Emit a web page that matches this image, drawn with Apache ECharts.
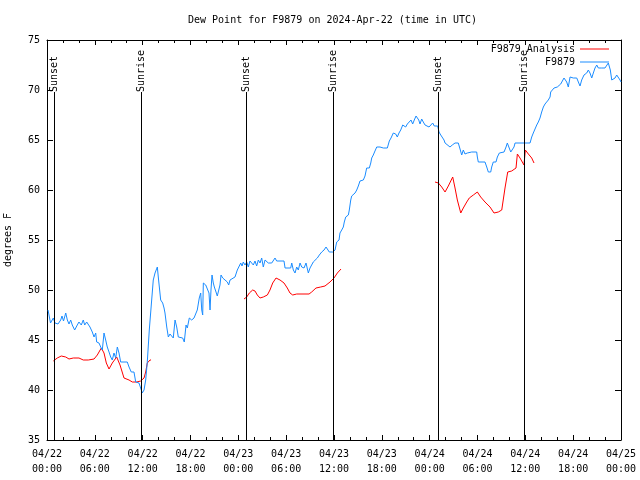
<!DOCTYPE html>
<html><head><meta charset="utf-8">
<script src="https://cdn.jsdelivr.net/npm/echarts@6/dist/echarts.min.js"></script>
<style>html,body{margin:0;padding:0;background:#fff}#c{width:640px;height:480px}</style>
</head><body><div id="c"></div>
<script>
const FONT = 'DejaVu Sans Mono';

// hours since 2024-04-22 00:00 UTC
const stationHours = [
0.13,0.25,0.44,0.63,0.79,1.00,1.38,1.72,1.88,2.07,
2.35,2.55,2.76,2.97,3.17,3.47,3.80,4.01,4.30,4.55,
4.73,4.98,5.18,5.39,5.68,5.90,6.11,6.23,6.52,6.74,
6.94,7.15,7.36,7.56,7.78,7.99,8.19,8.40,8.62,8.82,
9.03,9.24,10.07,10.29,10.57,10.91,11.13,11.54,11.75,11.95,
12.17,12.38,12.58,12.83,13.13,13.33,13.55,13.76,13.84,13.96,
14.09,14.26,14.51,14.68,14.80,15.02,15.22,15.43,15.64,15.84,
16.06,16.27,16.47,16.68,17.02,17.22,17.44,17.60,17.85,18.15,
18.44,18.69,18.85,19.10,19.28,19.41,19.53,19.61,19.73,19.91,
20.11,20.32,20.45,20.57,20.70,20.86,20.99,21.20,21.36,21.58,
21.70,21.83,22.04,22.33,22.62,22.79,22.96,23.17,23.58,23.87,
24.12,24.30,24.46,24.62,24.84,25.05,25.25,25.46,25.68,25.88,
26.09,26.30,26.51,26.72,26.93,27.13,27.35,27.56,27.76,27.97,
28.19,28.39,28.60,28.81,28.98,29.73,29.86,30.57,30.70,30.90,
31.11,31.32,31.52,31.74,31.95,32.24,32.49,32.78,32.99,33.20,
33.40,33.62,33.91,34.16,34.46,34.75,35.00,35.16,35.41,35.59,
35.84,36.13,36.34,36.63,36.75,36.97,37.17,37.29,37.47,37.80,
37.92,38.10,38.22,38.42,38.64,38.85,39.05,39.26,39.68,39.89,
40.10,40.43,40.61,40.73,40.93,41.14,41.36,41.56,41.77,41.99,
42.19,42.40,42.69,42.94,43.15,43.44,43.74,43.94,44.15,44.37,
44.62,44.78,44.99,45.20,45.45,45.66,45.87,46.07,46.29,46.50,
46.63,46.79,47.00,47.20,47.42,47.63,47.92,48.13,48.38,48.58,
48.80,49.01,49.17,49.39,49.59,49.80,49.93,50.14,50.55,50.84,
51.18,51.39,51.59,51.81,52.02,52.22,52.43,52.72,52.94,53.27,
53.90,53.98,54.10,54.94,55.16,55.36,55.66,55.78,55.98,56.32,
56.49,56.74,57.33,57.58,57.74,57.99,58.17,58.42,58.58,58.71,
60.59,60.80,61.00,61.22,61.43,61.63,61.84,62.05,62.26,62.47,
62.68,62.88,63.10,63.18,63.38,63.60,63.81,64.01,64.23,64.44,
64.64,64.85,65.02,65.19,65.39,65.61,65.82,66.02,66.23,66.45,
66.65,66.86,67.07,67.36,67.49,67.70,67.90,68.11,68.33,68.53,
68.74,68.96,69.16,69.37,69.58,69.78,69.99,70.20,70.41,70.54,
70.66,70.84,71.04,71.25,71.46,71.67,71.88,72.00];

const stationDewpt = [
48.0,47.5,46.7,46.7,47.2,46.7,46.6,47.0,47.4,46.9,
47.7,47.0,46.6,47.0,46.5,46.0,46.5,46.8,46.5,47.0,
46.5,46.8,46.8,46.3,45.8,45.3,45.7,44.8,44.7,44.3,
44.0,45.7,45.0,44.3,43.8,43.3,43.0,43.7,43.2,44.3,
43.7,42.8,42.8,42.3,41.8,41.8,40.8,40.7,40.5,39.7,
40.0,41.0,42.8,46.0,49.0,51.0,51.7,51.8,52.3,51.3,
50.3,49.0,48.7,48.2,47.7,46.3,45.3,45.6,45.7,45.2,
47.0,46.3,45.3,45.5,45.2,44.8,46.5,46.2,47.2,47.0,
47.2,47.0,48.0,49.2,49.7,48.0,47.5,50.7,50.8,50.5,
50.3,49.7,48.0,50.0,51.5,50.7,50.3,49.8,49.4,49.4,
50.5,51.5,51.2,51.0,50.8,50.5,51.0,51.2,51.3,52.0,
52.2,52.7,52.4,52.8,52.5,52.8,52.3,52.9,52.7,52.5,
52.9,52.4,53.0,52.7,53.2,52.3,53.0,53.2,52.7,52.8,
52.7,52.7,53.2,52.9,52.9,52.9,52.2,52.2,52.7,52.0,
51.7,52.3,52.0,52.7,52.3,52.2,52.7,51.7,52.2,52.3,
52.8,53.0,53.2,53.5,53.8,54.0,54.3,54.3,53.8,53.6,
53.8,54.0,54.8,55.0,55.7,56.0,56.3,56.8,57.3,57.5,
58.0,59.0,59.4,59.2,59.7,60.0,60.4,60.9,61.0,61.4,
62.2,62.2,62.7,63.2,63.5,63.9,64.3,64.5,64.3,64.5,
64.2,64.1,64.2,64.9,65.2,65.7,65.6,65.3,65.7,66.0,
66.5,66.7,66.3,66.6,66.7,67.0,66.6,67.0,67.4,67.5,
67.0,66.6,67.1,66.8,66.5,66.4,66.3,66.1,66.7,66.4,
66.3,66.4,65.8,65.5,65.4,65.0,64.7,64.5,64.3,64.5,
64.7,64.9,64.7,64.1,63.5,64.0,63.6,63.7,63.6,63.8,
63.8,63.3,62.8,62.8,62.3,61.8,61.8,62.3,62.8,62.8,
63.3,63.7,63.8,64.3,64.7,64.7,63.8,63.7,64.3,64.7,
64.7,65.3,65.7,65.8,66.5,66.8,67.2,67.8,68.3,68.6,
68.8,69.0,69.3,69.8,69.7,70.2,70.0,70.3,70.2,70.6,
70.8,71.2,71.3,70.8,70.3,71.3,71.5,71.2,71.0,71.2,
70.8,70.4,71.0,71.5,71.3,71.7,72.0,71.7,71.2,71.7,
72.2,72.5,72.2,72.3,72.2,72.0,72.2,72.3,72.7,72.8,
72.0,71.0,70.8,71.2,71.5,71.3,71.0,70.8];

// null entries separate the analysis segments
const analysisHours = [
0.79,1.29,1.79,2.35,2.76,3.30,4.01,4.55,5.18,5.90,6.31,6.81,7.15,7.44,7.78,8.19,8.74,9.16,9.66,10.29,10.70,11.25,11.75,12.17,12.38,12.58,12.92,13.05,
null,
24.71,25.05,25.38,25.80,26.09,26.38,26.72,27.13,27.64,27.97,28.31,28.73,29.23,29.73,30.14,30.48,30.82,31.32,32.87,33.20,33.74,34.33,34.87,35.50,36.00,36.42,36.88,
null,
48.67,49.09,49.51,49.93,50.34,50.89,51.18,51.47,51.90,52.22,52.65,52.97,53.48,53.98,54.40,54.94,55.57,56.07,56.61,57.04,57.45,57.79,58.29,58.83,59.00,59.33,59.83,60.00,60.38,60.80,61.09];
const analysisDewpt = [
42.9,43.2,43.4,43.3,43.1,43.2,43.2,43.0,43.0,43.1,43.5,44.2,43.7,42.7,42.1,42.7,43.3,42.5,41.2,41.0,40.8,40.8,40.9,41.2,41.8,42.7,43.0,43.0,
null,
49.1,49.3,49.7,50.0,49.9,49.5,49.2,49.3,49.5,50.0,50.7,51.2,51.0,50.7,50.2,49.7,49.5,49.6,49.6,49.8,50.2,50.3,50.4,50.8,51.2,51.7,52.1,
null,
60.8,60.7,60.3,59.8,60.4,61.3,60.2,59.0,57.7,58.2,58.8,59.2,59.5,59.8,59.3,58.8,58.3,57.7,57.8,58.0,60.2,61.8,61.9,62.2,63.6,63.2,62.5,64.0,63.6,63.2,62.7];

const eventHours = [0.95, 11.85, 24.96, 35.91, 49.11, 59.92];
const eventNames = ['Sunset','Sunrise','Sunset','Sunrise','Sunset','Sunrise'];
const eventTop = 69.8;

const xTickLabels = ['04/22\n00:00','04/22\n06:00','04/22\n12:00','04/22\n18:00',
  '04/23\n00:00','04/23\n06:00','04/23\n12:00','04/23\n18:00',
  '04/24\n00:00','04/24\n06:00','04/24\n12:00','04/24\n18:00','04/25\n00:00'];

const seriesNames = ['F9879 Analysis', 'F9879'];
const seriesColors = ['#ff0000', '#1a8cff'];

const stationData = stationHours.map((h, i) => [h, stationDewpt[i]]);
const analysisData = analysisHours.map((h, i) => h == null ? ['-', '-'] : [h, analysisDewpt[i]]);

const axisLineStyle = { lineStyle: { color: '#000', width: 1 } };
const txt = { color: '#000', fontFamily: FONT, fontSize: 10 };

const legendCommon = { orient: 'vertical', right: 31, align: 'right', padding: 0, icon: 'rect',
  itemWidth: 29, itemHeight: 1, textStyle: txt, selectedMode: false };

const chart = echarts.init(document.getElementById('c'), null, { renderer: 'canvas' });
chart.setOption({
  animation: false,
  backgroundColor: '#fff',
  title: {
    text: 'Dew Point for F9879 on 2024-Apr-22 (time in UTC)',
    left: 188, top: 15, padding: 0,
    textStyle: { color: '#000', fontFamily: FONT, fontSize: 10, fontWeight: 'normal' }
  },
  legend: [
    Object.assign({ data: [{ name: seriesNames[0], itemStyle: { color: seriesColors[0] } }], top: 44 }, legendCommon),
    Object.assign({ data: [{ name: seriesNames[1], itemStyle: { color: seriesColors[1] } }], top: 57 }, legendCommon)
  ],
  grid: { left: 47, top: 40, width: 574, height: 400, containLabel: false, outerBoundsMode: 'none' },
  xAxis: [
    { type: 'value', min: 0, max: 72, interval: 6, position: 'bottom',
      axisLine: Object.assign({ onZero: false }, axisLineStyle),
      axisTick: { inside: true, length: 5, lineStyle: { color: '#000' } },
      minorTick: { show: true, splitNumber: 3, length: 3, lineStyle: { color: '#000' } },
      axisLabel: Object.assign({ margin: 7, lineHeight: 15, formatter: v => xTickLabels[Math.round(v / 6)] }, txt),
      splitLine: { show: false } },
    { type: 'value', min: 0, max: 72, interval: 6, position: 'top',
      axisLine: Object.assign({ onZero: false }, axisLineStyle),
      axisTick: { inside: true, length: 5, lineStyle: { color: '#000' } },
      minorTick: { show: true, splitNumber: 3, length: 3, lineStyle: { color: '#000' } },
      axisLabel: { show: false }, splitLine: { show: false } }
  ],
  yAxis: [
    { type: 'value', min: 35, max: 75, interval: 5, position: 'left',
      name: 'degrees F', nameLocation: 'middle', nameGap: 34, nameRotate: 90,
      nameTextStyle: txt,
      axisLine: Object.assign({ onZero: false }, axisLineStyle),
      axisTick: { inside: true, length: 6, lineStyle: { color: '#000' } },
      axisLabel: Object.assign({ margin: 7 }, txt),
      splitLine: { show: false } },
    { type: 'value', min: 35, max: 75, interval: 5, position: 'right',
      axisLine: Object.assign({ onZero: false }, axisLineStyle),
      axisTick: { inside: true, length: 6, lineStyle: { color: '#000' } },
      axisLabel: { show: false }, splitLine: { show: false } }
  ],
  series: [
    { name: 'events', type: 'scatter', xAxisIndex: 0, yAxisIndex: 0, silent: true,
      symbol: 'rect', symbolSize: 1, itemStyle: { opacity: 0 },
      data: eventHours.map((h, i) => ({ value: [h, eventTop], name: eventNames[i] })),
      label: { show: true, formatter: '{b}', position: 'inside', rotate: 90, align: 'left',
        verticalAlign: 'middle', color: '#000', fontFamily: FONT, fontSize: 10, opacity: 1 },
      markLine: { silent: true, symbol: ['none', 'none'], animation: false,
        lineStyle: { color: '#000', width: 1, type: 'solid' }, label: { show: false },
        data: eventHours.map(h => [{ coord: [h, 35] }, { coord: [h, eventTop] }]) } },
    { name: seriesNames[0], type: 'line', data: analysisData, symbol: 'none', showSymbol: false,
      connectNulls: false, lineStyle: { color: seriesColors[0], width: 1 }, itemStyle: { color: seriesColors[0] } },
    { name: seriesNames[1], type: 'line', data: stationData, symbol: 'none', showSymbol: false,
      lineStyle: { color: seriesColors[1], width: 1 }, itemStyle: { color: seriesColors[1] } }
  ]
});
</script>
</body></html>
